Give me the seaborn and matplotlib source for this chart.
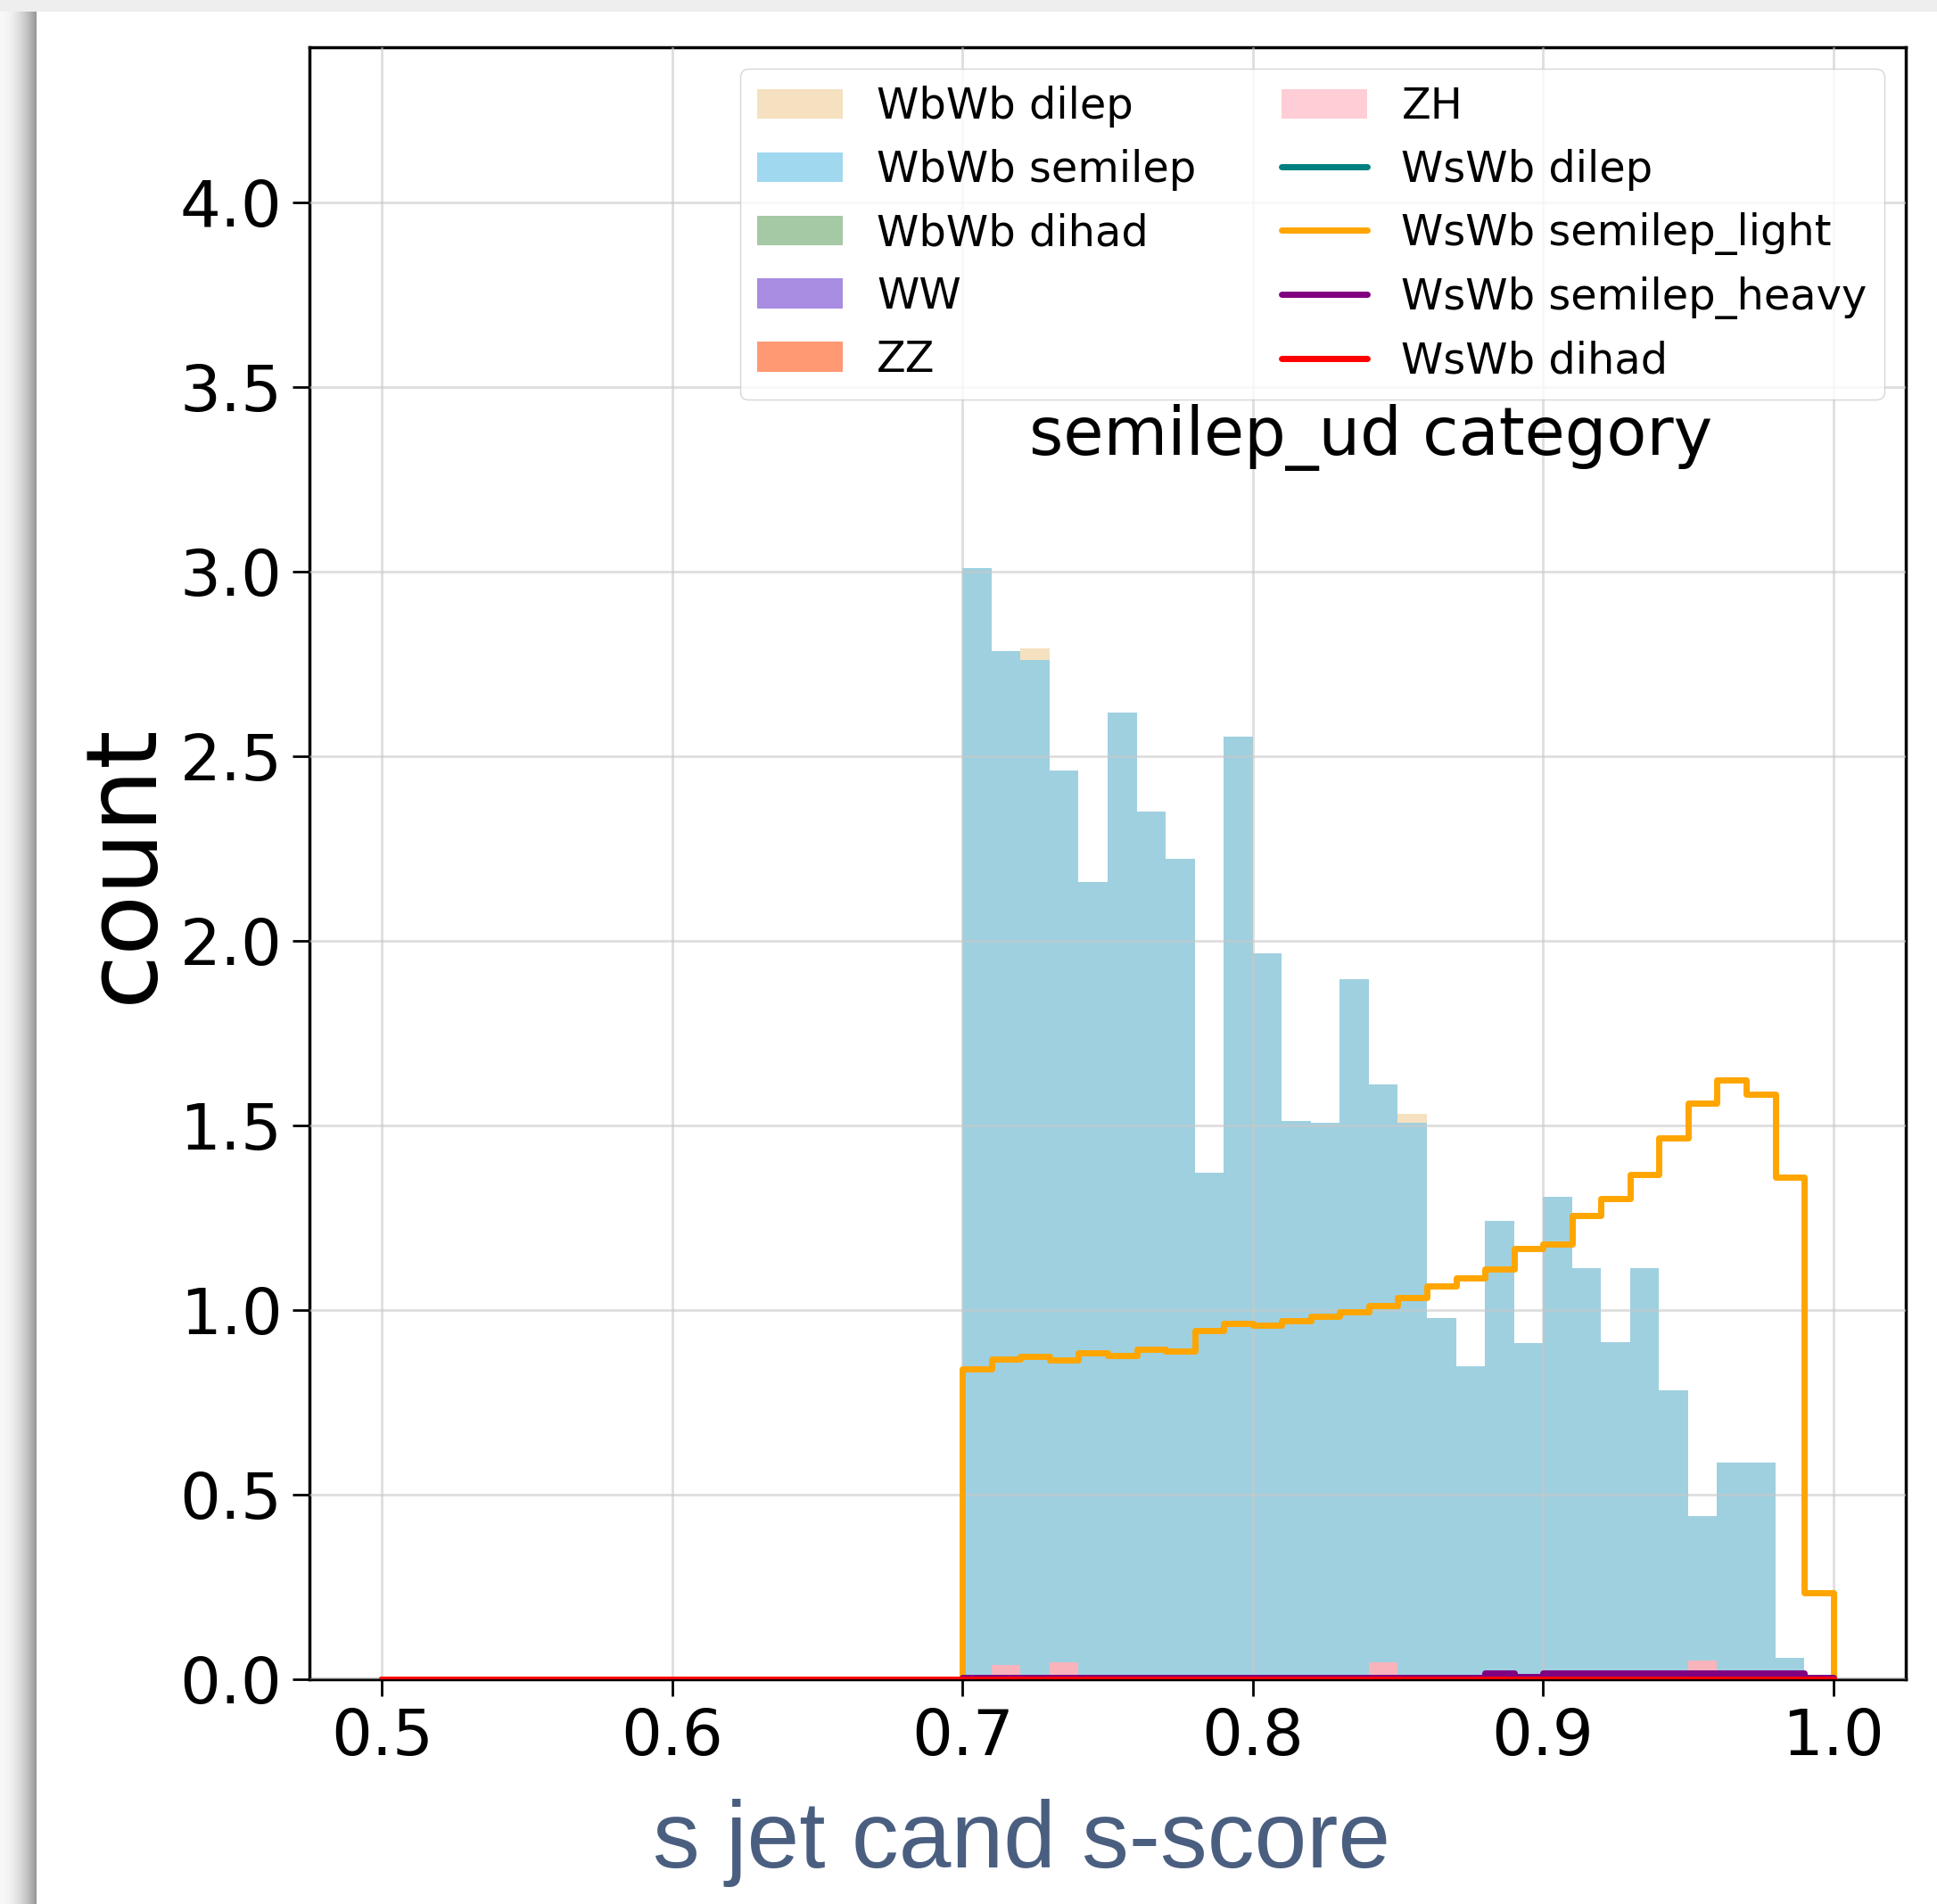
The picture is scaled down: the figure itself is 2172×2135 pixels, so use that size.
import numpy as np
import pandas as pd
import matplotlib
matplotlib.use("Agg")
import matplotlib.pyplot as plt
from matplotlib.patches import Patch
from matplotlib.lines import Line2D
import seaborn as sns

# binning of the s-score (bins below 0.70 are empty in this category)
bin_lo, bin_hi, n_bins = 0.5, 1.0, 50

# backgrounds, stacked (values per bin starting at 0.70, width 0.01)
bkg_names = ["WbWb dilep", "WbWb semilep", "WbWb dihad", "WW", "ZZ", "ZH"]
bkg_legend_colors = ["#f5e1c0", "#a0d8ef", "#a5c9a5", "#a88de2", "#ff9973", "#ffcdd5"]
bkg_fill_colors = ["#f5e1c0", "#9fd0e0", "#a5c9a5", "#a88de2", "#ff9973", "#f9b3bb"]

wbwb_dilep = [0, 0, 0.031, 0, 0, 0, 0, 0, 0, 0,
              0, 0, 0, 0, 0, 0.026, 0, 0, 0, 0,
              0, 0, 0, 0, 0, 0, 0, 0, 0, 0]
wbwb_semilep = [3.01, 2.746, 2.76, 2.416, 2.16, 2.617, 2.351, 2.223, 1.372, 2.552,
                1.965, 1.513, 1.506, 1.895, 1.564, 1.506, 0.977, 0.848, 1.241, 0.911,
                1.307, 1.114, 0.914, 1.114, 0.782, 0.39, 0.588, 0.588, 0.058, 0.0]
wbwb_dihad = [0] * 30
ww = [0] * 30
zz = [0] * 30
zh = [0, 0.039, 0, 0.046, 0, 0, 0, 0, 0, 0,
      0, 0, 0, 0, 0.046, 0, 0, 0, 0, 0,
      0, 0, 0, 0, 0, 0.051, 0, 0, 0, 0]

# signals, drawn as step outlines
sig_names = ["WsWb dilep", "WsWb semilep_light", "WsWb semilep_heavy", "WsWb dihad"]
sig_colors = ["teal", "orange", "purple", "red"]

wswb_dilep = [0] * 30
wswb_semilep_light = [0.84, 0.867, 0.875, 0.865, 0.883, 0.877, 0.894, 0.889, 0.945, 0.964,
                      0.958, 0.970, 0.982, 0.996, 1.011, 1.033, 1.064, 1.087, 1.110, 1.166,
                      1.179, 1.255, 1.302, 1.367, 1.465, 1.561, 1.624, 1.585, 1.359, 0.234]
wswb_semilep_heavy = [0.004] * 18 + [0.016, 0.008] + [0.018] * 9 + [0.005]
wswb_dihad = [0] * 30


def expand(vals):
    full = np.zeros(n_bins)
    full[n_bins - len(vals):] = vals
    return full


edges = list(np.linspace(bin_lo, bin_hi, n_bins + 1))
centers = 0.5 * (np.array(edges[:-1]) + np.array(edges[1:]))

bkg_vals = [wbwb_dilep, wbwb_semilep, wbwb_dihad, ww, zz, zh]
df_bkg = pd.concat(
    [pd.DataFrame({"score": centers, "w": expand(v), "sample": n})
     for n, v in zip(bkg_names, bkg_vals)],
    ignore_index=True,
)
sig_vals = [wswb_dilep, wswb_semilep_light, wswb_semilep_heavy, wswb_dihad]

sns.set_style("whitegrid", {"axes.edgecolor": "black", "grid.color": "#d4d4d4",
                            "xtick.bottom": True, "ytick.left": True})
plt.rcParams["font.family"] = ["DejaVu Sans"]
plt.rcParams["text.color"] = "black"
plt.rcParams["xtick.color"] = "black"
plt.rcParams["ytick.color"] = "black"
plt.rcParams["axes.labelcolor"] = "black"

fig = plt.figure(figsize=(21.72, 21.35), dpi=100)
ax = fig.add_axes([347 / 2172, 252 / 2135, 1790 / 2172, 1830 / 2135])

sns.histplot(df_bkg, x="score", weights="w", hue="sample", hue_order=bkg_names,
             multiple="stack", bins=edges, palette=dict(zip(bkg_names, bkg_fill_colors)),
             alpha=1, linewidth=0, legend=False, ax=ax)

for name, color, vals in zip(sig_names, sig_colors, sig_vals):
    sns.histplot(x=centers, weights=expand(vals), bins=edges, element="step",
                 fill=True, color=color, facecolor="none", edgecolor=color,
                 linewidth=5, zorder=3, ax=ax)

ax.set_xlim(0.475, 1.025)
ax.set_ylim(0, 4.42)
ax.set_xticks(np.arange(0.5, 1.01, 0.1))
ax.set_yticks(np.arange(0, 4.01, 0.5))
ax.set_axisbelow(False)
ax.grid(True, color="#c8c8c8", linewidth=2, alpha=0.6)
ax.tick_params(labelsize=52, length=14, width=2, pad=8)
for s in ax.spines.values():
    s.set_linewidth(2.5)
    s.set_color("black")
ax.set_xlabel("")
ax.set_ylabel("count", fontsize=80, labelpad=6)

ax.text(0.665, 0.75, "semilep_ud category", fontsize=53, ha="center",
        va="baseline", transform=ax.transAxes)

handles = [Patch(facecolor=c, edgecolor="none", label=n)
           for n, c in zip(bkg_names, bkg_legend_colors)]
handles += [Line2D([], [], color=c, linewidth=5, label=n)
            for n, c in zip(sig_names, sig_colors)]
ax.legend(handles=handles, ncol=2, loc="upper right", fontsize=34.5,
          frameon=True, fancybox=True, framealpha=0.8, edgecolor="#cccccc")

# slide overlay axis title
fig.text(1146 / 2172, 41 / 2135, "s jet cand s-score", fontsize=76,
         family="Liberation Sans", color="#4a5e80", ha="center", va="baseline")

# screenshot shadow along the left and top edges
shade = fig.add_axes([0, 0, 41 / 2172, 1 - 13 / 2135])
grad = np.linspace(0, 1, 41) ** 2
shade.imshow((0.97 - 0.38 * grad)[None, :], cmap="gray", vmin=0, vmax=1,
             aspect="auto", extent=[0, 1, 0, 1])
shade.set_axis_off()
top = fig.add_axes([0, 1 - 13 / 2135, 1, 13 / 2135])
top.set_axis_off()
top.add_patch(plt.Rectangle((0, 0), 1, 1, color="#eeeeee", transform=top.transAxes))

fig.savefig("out.png", dpi=100)
